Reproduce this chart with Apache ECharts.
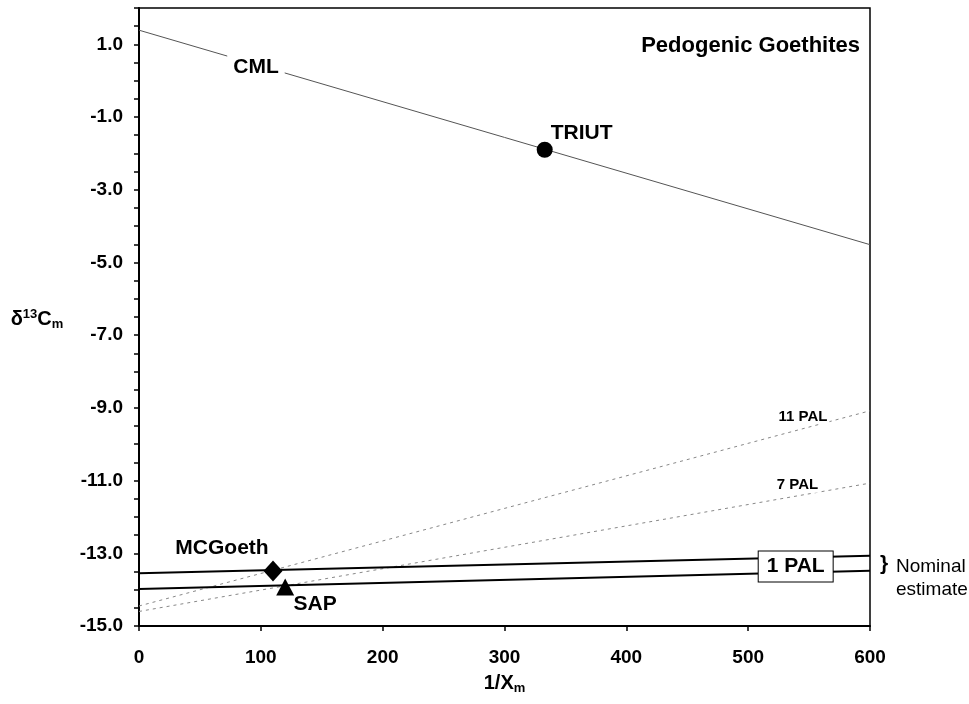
<!DOCTYPE html>
<html>
<head>
<meta charset="utf-8">
<script src="https://cdn.jsdelivr.net/npm/echarts@6/dist/echarts.min.js"></script>
<style>
  html, body { margin: 0; padding: 0; background: #fff; }
  #chart { width: 969px; height: 704px; }
</style>
</head>
<body>
<div id="chart"></div>
<script type="text/javascript">
// end points of each line: [x, y]
var cmlLine   = [[0, 1.39], [600, -4.51]];
var pal11Line = [[0, -14.45], [600, -9.08]];
var pal7Line  = [[0, -14.6], [600, -11.07]];
var pal1Upper = [[0, -13.55], [600, -13.07]];
var pal1Lower = [[0, -13.98], [600, -13.48]];

// samples
var triut   = [333, -1.9];
var mcgoeth = [110, -13.49];
var sap     = [120, -13.93];

// where the line labels sit
var cmlLabelAt   = [96, 0.38];
var pal11LabelAt = [545, -9.24];
var pal7LabelAt  = [540.5, -11.13];
var pal1LabelAt  = [539, -13.36];

var xTicks = [0, 600, 100];
var yTicks = [-15, 2, 0.5];

var font = "'Liberation Sans', Arial, sans-serif";

var chart = echarts.init(document.getElementById('chart'));

function lineSeries(data, color, width, type) {
  return {
    type: 'line',
    data: data,
    symbol: 'none',
    silent: true,
    lineStyle: { color: color, width: width, type: type },
    z: 2
  };
}

function labelPoint(pos, text, style) {
  return {
    type: 'scatter',
    data: [pos],
    symbolSize: 0,
    silent: true,
    z: 5,
    itemStyle: { opacity: 1 },
    label: Object.assign({
      show: true,
      position: 'inside',
      formatter: text,
      color: '#000',
      fontFamily: font,
      fontWeight: 'bold',
      backgroundColor: '#fff'
    }, style)
  };
}

function samplePoint(pos, symbol, size, text, offset) {
  return {
    type: 'scatter',
    data: [pos],
    symbol: symbol,
    symbolSize: size,
    itemStyle: { color: '#000', opacity: 1 },
    silent: true,
    z: 6,
    label: {
      show: true,
      position: 'inside',
      offset: offset,
      formatter: text,
      color: '#000',
      fontFamily: font,
      fontWeight: 'bold',
      fontSize: 21
    }
  };
}

var option = {
  animation: false,
  backgroundColor: '#fff',
  title: {
    text: 'Pedogenic Goethites',
    right: 104,
    top: 30,
    textStyle: { fontFamily: font, fontWeight: 'bold', fontSize: 22, color: '#000' }
  },
  grid: {
    left: 139, top: 8, right: 99, bottom: 78,
    outerBoundsMode: 'none',
    containLabel: false,
    show: true, borderColor: '#000', borderWidth: 1.5, backgroundColor: '#fff'
  },
  xAxis: {
    type: 'value',
    min: xTicks[0], max: xTicks[1], interval: xTicks[2],
    name: '{b|1/X}{s|m}',
    nameLocation: 'middle',
    nameGap: 45,
    nameTextStyle: {
      rich: {
        b: { fontFamily: font, fontWeight: 'bold', fontSize: 20, color: '#000' },
        s: { fontFamily: font, fontWeight: 'bold', fontSize: 13, color: '#000', padding: [11, 0, 0, 0] }
      }
    },
    splitLine: { show: false },
    axisLine: { onZero: false, lineStyle: { color: '#000', width: 2 } },
    axisTick: { inside: false, length: 5, lineStyle: { color: '#000', width: 1.5 } },
    axisLabel: { margin: 22, color: '#000', fontFamily: font, fontWeight: 'bold', fontSize: 19 }
  },
  yAxis: {
    type: 'value',
    min: yTicks[0], max: yTicks[1], interval: yTicks[2],
    name: '{b|δ}{u|13}{b|C}{s|m}',
    nameLocation: 'middle',
    nameRotate: 0,
    nameGap: 102,
    nameTextStyle: {
      align: 'center',
      padding: [4, 0, 0, 0],
      rich: {
        b: { fontFamily: font, fontWeight: 'bold', fontSize: 20, color: '#000' },
        u: { fontFamily: font, fontWeight: 'bold', fontSize: 13, color: '#000', padding: [0, 0, 10, 0] },
        s: { fontFamily: font, fontWeight: 'bold', fontSize: 13, color: '#000', padding: [11, 0, 0, 0] }
      }
    },
    splitLine: { show: false },
    axisLine: { onZero: false, lineStyle: { color: '#000', width: 2 } },
    axisTick: { inside: false, length: 5, lineStyle: { color: '#000', width: 1.5 } },
    axisLabel: {
      margin: 16,
      color: '#000', fontFamily: font, fontWeight: 'bold', fontSize: 19,
      formatter: function (v) {
        var r = Math.round(v * 10) / 10;
        if (Math.abs(r % 2) === 1) return r.toFixed(1);
        return '';
      }
    }
  },
  graphic: [
    { type: 'text', left: 880, top: 554,
      style: { text: '}', font: 'bold 21px ' + font, fill: '#000' } },
    { type: 'text', left: 896, top: 555,
      style: { text: 'Nominal\nestimate', font: '19px ' + font, fill: '#000', lineHeight: 23 } }
  ],
  series: [
    lineSeries(cmlLine, '#555', 1, 'solid'),
    lineSeries(pal11Line, '#888', 1, [3, 4]),
    lineSeries(pal7Line, '#888', 1, [3, 4]),
    lineSeries(pal1Upper, '#000', 2, 'solid'),
    lineSeries(pal1Lower, '#000', 2, 'solid'),
    labelPoint(cmlLabelAt, 'CML', { fontSize: 21, padding: [2, 6] }),
    labelPoint(pal11LabelAt, '11 PAL', { fontSize: 15, padding: [0, 2] }),
    labelPoint(pal7LabelAt, '7 PAL', { fontSize: 15, padding: [0, 2] }),
    labelPoint(pal1LabelAt, '1 PAL', {
      fontSize: 21, padding: [5, 8, 4, 8],
      borderColor: '#000', borderWidth: 1
    }),
    samplePoint(triut, 'circle', 16, 'TRIUT', [37, -17]),
    samplePoint(mcgoeth, 'diamond', [19, 21], 'MCGoeth', [-51, -23]),
    samplePoint(sap, 'triangle', [18, 17], 'SAP', [30, 17])
  ]
};

chart.setOption(option);
</script>
</body>
</html>
